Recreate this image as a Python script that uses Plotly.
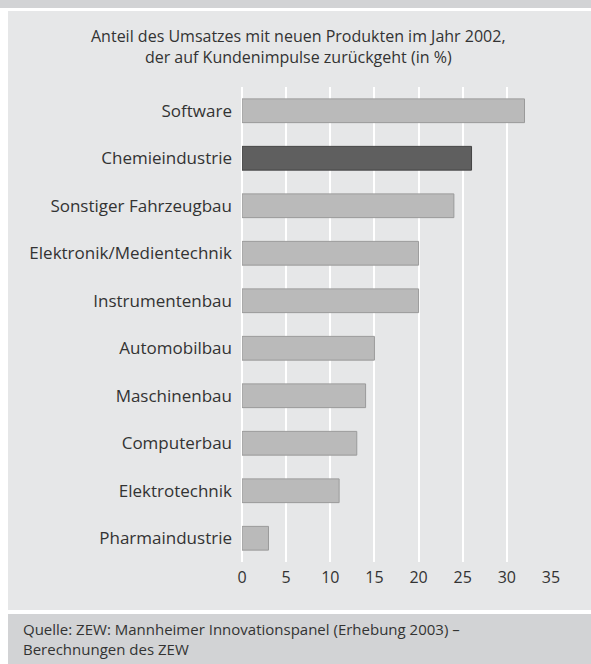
import plotly.graph_objects as go

# data
branchen = [
    "Software",
    "Chemieindustrie",
    "Sonstiger Fahrzeugbau",
    "Elektronik/Medientechnik",
    "Instrumentenbau",
    "Automobilbau",
    "Maschinenbau",
    "Computerbau",
    "Elektrotechnik",
    "Pharmaindustrie",
]
anteil = [32, 26, 24, 20, 20, 15, 14, 13, 11, 3]
highlight = "Chemieindustrie"
x_ticks = [0, 5, 10, 15, 20, 25, 30, 35]

title_text = (
    "Anteil des Umsatzes mit neuen Produkten im Jahr 2002,<br>"
    "der auf Kundenimpulse zurückgeht (in %)"
)
source_text = (
    "Quelle: ZEW: Mannheimer Innovationspanel (Erhebung 2003) –<br>"
    "Berechnungen des ZEW"
)

W, H = 591, 664
L, R, T, B = 242, 40, 87, 102
panel = "#e6e7e8"
band = "#d2d3d5"
text_col = "#333333"
font = "Open Sans"

bar_colors = ["#5f5f5f" if b == highlight else "#bababa" for b in branchen]
line_colors = ["#444444" if b == highlight else "#9a9a9a" for b in branchen]

fig = go.Figure(
    go.Bar(
        x=anteil,
        y=branchen,
        orientation="h",
        width=0.5,
        marker=dict(color=bar_colors, line=dict(color=line_colors, width=1)),
        hoverinfo="x+y",
    )
)

# pixel -> paper helpers for the decorative bands
pw, ph = W - L - R, H - T - B


def px_x(p):
    return (p - L) / pw


def px_y(p):
    return (H - B - p) / ph


shapes = [
    dict(type="rect", xref="paper", yref="paper", layer="below",
         x0=px_x(0), x1=px_x(W), y0=px_y(0), y1=px_y(8),
         fillcolor=band, line_width=0),
    dict(type="rect", xref="paper", yref="paper", layer="below",
         x0=px_x(8), x1=px_x(W), y0=px_y(11), y1=px_y(610),
         fillcolor=panel, line_width=0),
    dict(type="rect", xref="paper", yref="paper", layer="below",
         x0=px_x(8), x1=px_x(W), y0=px_y(614), y1=px_y(H),
         fillcolor=band, line_width=0),
]

annotations = [
    dict(text=title_text, xref="paper", yref="paper",
         x=px_x(W / 2 + 3), y=px_y(47), xanchor="center", yanchor="middle",
         showarrow=False, align="center",
         font=dict(family=font, size=16, color=text_col)),
    dict(text=source_text, xref="paper", yref="paper",
         x=px_x(21), y=px_y(639), xanchor="left", yanchor="middle",
         showarrow=False, align="left",
         font=dict(family=font, size=15, color=text_col)),
]

fig.update_layout(
    width=W,
    height=H,
    margin=dict(l=L, r=R, t=T, b=B),
    paper_bgcolor="white",
    plot_bgcolor="rgba(0,0,0,0)",
    showlegend=False,
    shapes=shapes,
    annotations=annotations,
    font=dict(family=font, color=text_col),
    xaxis=dict(
        range=[0, 35],
        tickvals=x_ticks,
        showgrid=True,
        gridcolor="white",
        gridwidth=2,
        zeroline=True,
        zerolinecolor="white",
        zerolinewidth=2,
        showline=False,
        ticks="",
        ticklabelstandoff=4,
        tickfont=dict(size=16, color=text_col),
        fixedrange=True,
    ),
    yaxis=dict(
        autorange="reversed",
        showgrid=False,
        showline=False,
        ticks="",
        ticklabelstandoff=9,
        tickfont=dict(size=17, color=text_col),
        fixedrange=True,
    ),
)

# the page's default body margin would push the figure 8px off
fig.write_html(
    "out.html",
    config={"displayModeBar": False},
    post_script="document.body.style.margin='0';document.body.style.overflow='hidden';",
)
